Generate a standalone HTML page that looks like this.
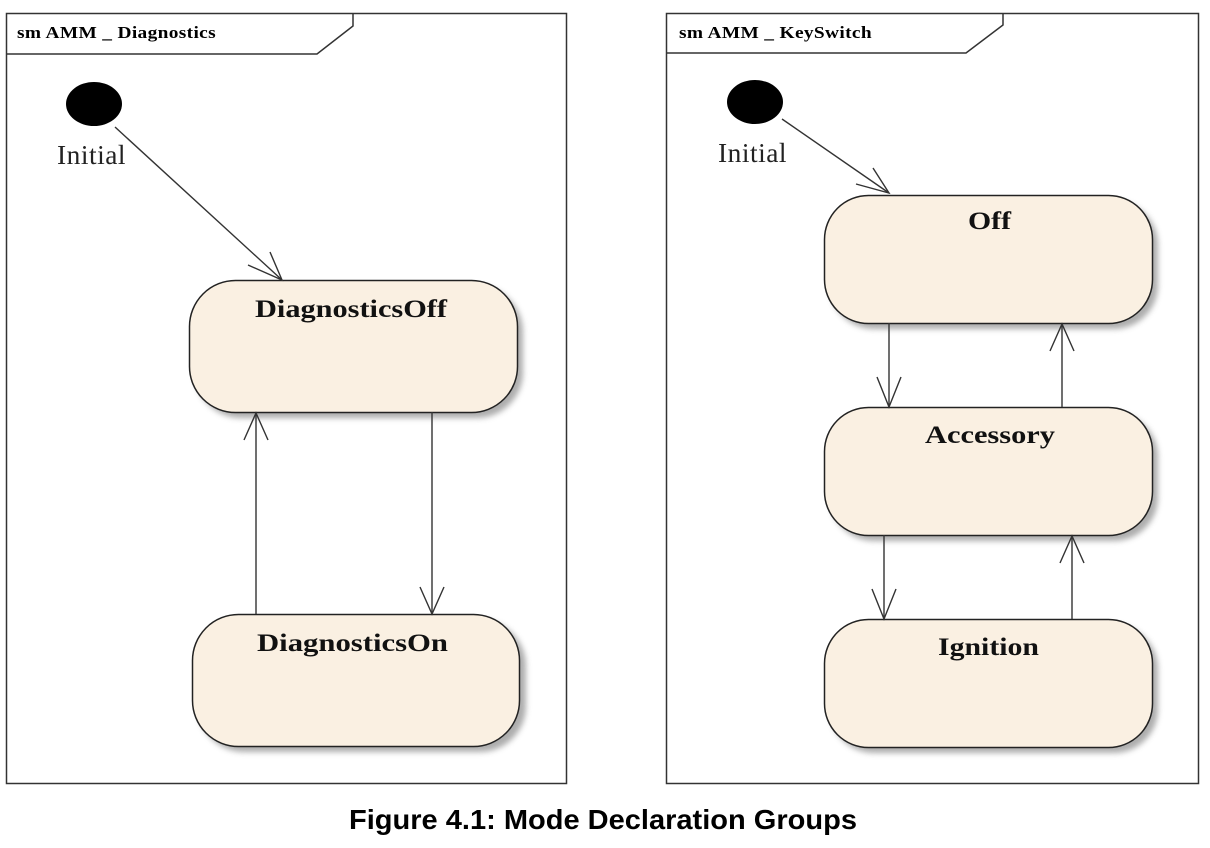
<!DOCTYPE html>
<html><head><meta charset="utf-8"><style>
html,body{margin:0;padding:0;background:#fff;width:1210px;height:848px;overflow:hidden}
</style></head><body>
<svg width="1210" height="848" viewBox="0 0 1210 848" xmlns="http://www.w3.org/2000/svg">
<defs>
<filter id="sh" x="-10%" y="-10%" width="130%" height="130%"><feGaussianBlur stdDeviation="3"/></filter>
</defs>
<g fill="none" stroke="#333" stroke-width="1.5">
<rect x="6.5" y="13.5" width="560" height="770"/>
<polyline points="6.5,54 317,54 353,26 353,13.5"/>
<rect x="666.5" y="13.5" width="532" height="770"/>
<polyline points="666.5,53 966,53 1003,25 1003,13.5"/>
</g>
<g font-family="'Liberation Serif',serif" font-size="17" font-weight="bold" fill="#000" letter-spacing="0.3">
<text x="17" y="38" textLength="199" lengthAdjust="spacingAndGlyphs">sm AMM _ Diagnostics</text>
<text x="679" y="38" textLength="193" lengthAdjust="spacingAndGlyphs">sm AMM _ KeySwitch</text>
</g>
<ellipse cx="94" cy="104" rx="28" ry="22" fill="#000"/>
<ellipse cx="755" cy="102" rx="28" ry="22" fill="#000"/>
<g font-family="'Liberation Serif',serif" font-size="27" fill="#222" letter-spacing="0.5">
<text x="57" y="164" textLength="69" lengthAdjust="spacingAndGlyphs">Initial</text>
<text x="718" y="162" textLength="69" lengthAdjust="spacingAndGlyphs">Initial</text>
</g>
<g fill="#999" filter="url(#sh)" opacity="0.8">
<rect x="195" y="286" width="328" height="132" rx="46"/>
<rect x="198" y="620" width="328" height="132" rx="46"/>
<rect x="830" y="201" width="328" height="128" rx="44"/>
<rect x="830" y="413" width="328" height="128" rx="44"/>
<rect x="830" y="625" width="328" height="128" rx="44"/>
</g>
<g fill="#faf0e2" stroke="#222" stroke-width="1.5">
<rect x="189.5" y="280.5" width="328" height="132" rx="46"/>
<rect x="192.5" y="614.5" width="327" height="132" rx="46"/>
<rect x="824.5" y="195.5" width="328" height="128" rx="44"/>
<rect x="824.5" y="407.5" width="328" height="128" rx="44"/>
<rect x="824.5" y="619.5" width="328" height="128" rx="44"/>
</g>
<g font-family="'Liberation Serif',serif" font-size="25" font-weight="bold" fill="#111">
<text x="255" y="317" textLength="192" lengthAdjust="spacingAndGlyphs">DiagnosticsOff</text>
<text x="257" y="651" textLength="191" lengthAdjust="spacingAndGlyphs">DiagnosticsOn</text>
<text x="968" y="229" textLength="43" lengthAdjust="spacingAndGlyphs">Off</text>
<text x="925" y="443" textLength="130" lengthAdjust="spacingAndGlyphs">Accessory</text>
<text x="938" y="655" textLength="101" lengthAdjust="spacingAndGlyphs">Ignition</text>
</g>
<g fill="none" stroke="#333" stroke-width="1.4">
<line x1="115" y1="127" x2="282" y2="280"/><polyline points="248,265 282,280 270,252"/>
<line x1="256" y1="614" x2="256" y2="413"/><polyline points="244,440 256,413 268,440"/>
<line x1="432" y1="412" x2="432" y2="614"/><polyline points="420,587 432,614 444,587"/>
<line x1="782" y1="119" x2="889" y2="193"/><polyline points="856,184 889,193 873,168"/>
<line x1="889" y1="323" x2="889" y2="407"/><polyline points="877,377 889,407 901,377"/>
<line x1="1062" y1="407" x2="1062" y2="324"/><polyline points="1050,351 1062,324 1074,351"/>
<line x1="884" y1="535" x2="884" y2="619"/><polyline points="872,589 884,619 896,589"/>
<line x1="1072" y1="619" x2="1072" y2="536"/><polyline points="1060,563 1072,536 1084,563"/>
</g>
<text x="349" y="829" textLength="508" lengthAdjust="spacingAndGlyphs" font-family="'Liberation Sans',sans-serif" font-size="28" font-weight="bold" fill="#000">Figure 4.1: Mode Declaration Groups</text>
</svg>
</body></html>
